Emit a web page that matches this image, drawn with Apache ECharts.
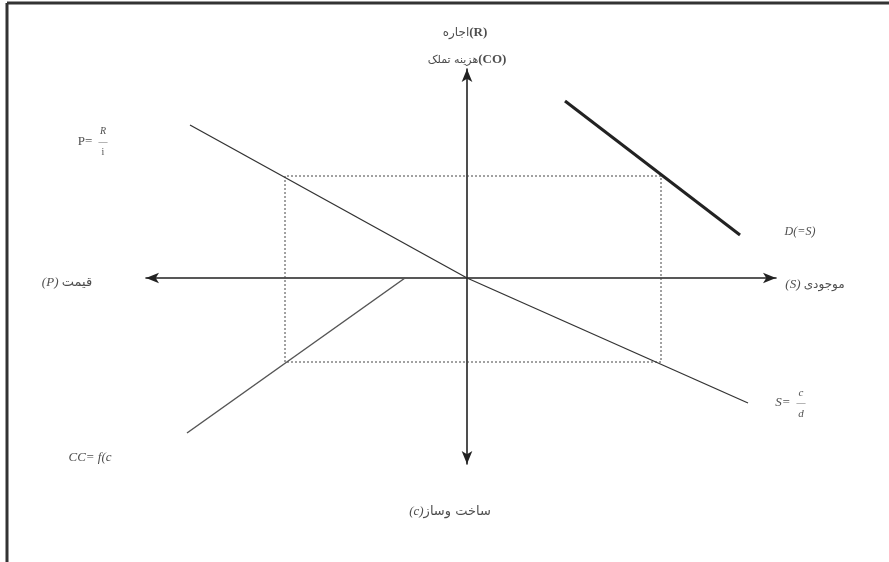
<!DOCTYPE html>
<html>
<head>
<meta charset="utf-8">
<script src="https://cdn.jsdelivr.net/npm/echarts@6/dist/echarts.min.js"></script>
<style>
html, body { margin: 0; padding: 0; background: #fff; }
#main { width: 889px; height: 562px; }
</style>
</head>
<body>
<div id="main"></div>
<script>
// نمودار چهار ربعی - واحدها نسبی، مبدا = محل تقاطع محورها
var priceLine = [[-27.7, 15.3], [0, 0]]      // P = R/i
var stockLine = [[0, 0], [28.1, -12.5]]      // S = c/d
var costLine = [[-28, -15.5], [-6.2, 0]]     // CC = f(c)
var demandLine = [[9.8, 17.7], [27.3, 4.3]]  // D(=S)
var boxX = [-18.2, 19.4]
var boxY = [-8.4, 10.2]
// هر جزء جدا رسم می شود تا ترتیب دیداری ثابت بماند
var axisNames = [
    '{a|اجاره}{b|(R)}',
    '{a|هزینه تملک}{b|(CO)}',
    '{b|(P)} {a|قیمت}',
    '{b|(S)} {a|موجودی}',
    '{b|(c)}{a|ساخت وساز}'
]

var chart = echarts.init(document.getElementById('main'))

var serif = "'Liberation Serif', 'DejaVu Serif', 'DejaVu Sans', serif"

// متن روی نمودار
function note(x, y, text, size, extra) {
    var lbl = {
        show: true,
        position: 'inside',
        formatter: text,
        color: '#222',
        fontFamily: serif,
        fontSize: size
    }
    for (var k in extra) lbl[k] = extra[k]
    return { value: [x, y], label: lbl }
}

function richName(latinStyle, arabicSize) {
    return {
        rich: {
            a: { fontFamily: "'DejaVu Sans', sans-serif", fontSize: arabicSize, color: '#222' },
            b: latinStyle
        }
    }
}
var upright = { fontFamily: serif, fontSize: 13, fontWeight: 'bold', color: '#222' }
var slanted = { fontFamily: serif, fontSize: 13, fontStyle: 'italic', color: '#222' }

var notes = [
    note(-0.2, 24.5, axisNames[0], 13, richName(upright, 12)),
    note(0, 21.8, axisNames[1], 13, richName(upright, 11)),
    note(-40, -0.5, axisNames[2], 13, richName(slanted, 13)),
    note(34.8, -0.7, axisNames[3], 13, richName(slanted, 12)),
    note(-1.7, -23.4, axisNames[4], 13, richName(slanted, 13)),
    // P = R/i
    note(-38.2, 13.6, 'P=', 13),
    note(-36.4, 14.7, 'R', 10, { fontStyle: 'italic' }),
    note(-36.4, 13.65, '―', 9),
    note(-36.4, 12.6, 'i', 10),
    // S = c/d
    note(31.6, -12.5, 'S=', 13, { fontStyle: 'italic' }),
    note(33.4, -11.5, 'c', 11, { fontStyle: 'italic' }),
    note(33.4, -12.45, '―', 9),
    note(33.4, -13.6, 'd', 11, { fontStyle: 'italic' }),
    note(33.3, 4.6, 'D(=S)', 12, { fontStyle: 'italic' }),
    note(-37.7, -18, 'CC= f(c', 13, { fontStyle: 'italic' })
]

function seg(data, width, color, type) {
    return {
        type: 'line',
        data: data,
        showSymbol: false,
        silent: true,
        clip: false,
        lineStyle: { width: width, color: color, type: type || 'solid' }
    }
}

var box = [[boxX[0], boxY[0]], [boxX[0], boxY[1]], [boxX[1], boxY[1]], [boxX[1], boxY[0]], [boxX[0], boxY[0]]]

var arrowLine = {
    onZero: true,
    symbol: ['arrow', 'arrow'],
    symbolSize: [8, 13],
    lineStyle: { color: '#222', width: 1.6 }
}

chart.setOption({
    animation: false,
    backgroundColor: '#fff',
    grid: { left: 146, right: 113, top: 69, bottom: 98 },
    xAxis: {
        type: 'value', min: -32.1, max: 30.9,
        axisLine: arrowLine,
        axisTick: { show: false }, axisLabel: { show: false }, splitLine: { show: false }
    },
    yAxis: {
        type: 'value', min: -18.6, max: 20.9,
        axisLine: arrowLine,
        axisTick: { show: false }, axisLabel: { show: false }, splitLine: { show: false }
    },
    graphic: [
        { type: 'line', shape: { x1: 7, y1: 3, x2: 889, y2: 3 }, style: { stroke: '#333', lineWidth: 3 } },
        { type: 'line', shape: { x1: 7, y1: 3, x2: 7, y2: 562 }, style: { stroke: '#333', lineWidth: 3 } }
    ],
    series: [
        seg(box, 1, '#444', [2, 2]),
        seg(priceLine, 1.3, '#333'),
        seg(stockLine, 1.3, '#333'),
        seg(costLine, 1.5, '#555'),
        seg(demandLine, 3, '#222'),
        {
            type: 'scatter',
            symbolSize: 0,
            silent: true,
            clip: false,
            data: notes
        }
    ]
})
</script>
</body>
</html>
